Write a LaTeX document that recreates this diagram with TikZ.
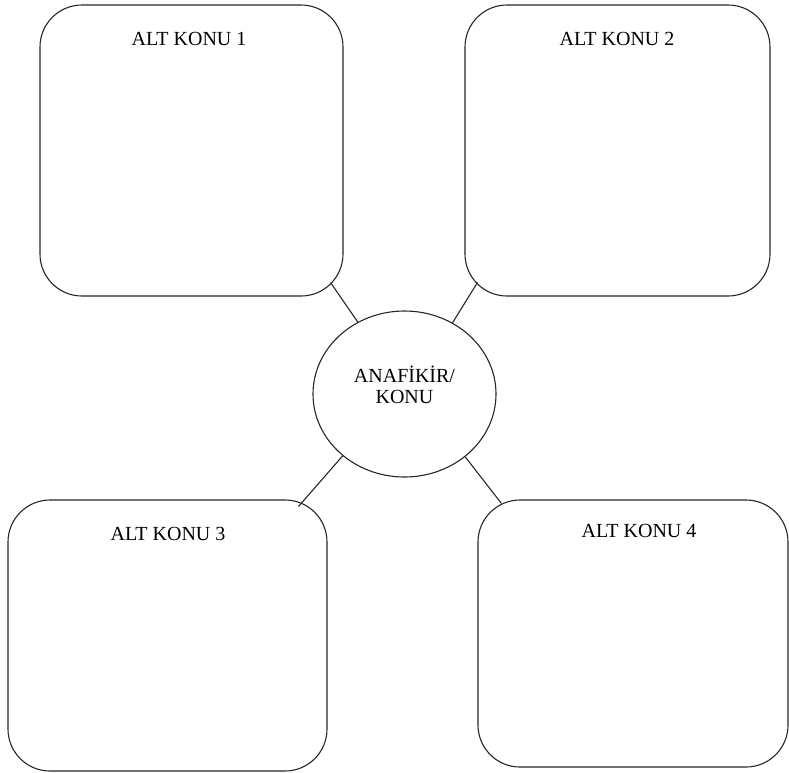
\documentclass[tikz,border=0pt]{standalone}
\usepackage{fontspec}
\setmainfont{Liberation Serif}
\usetikzlibrary{shapes.geometric,calc}

\tikzset{
  topicbox/.style={draw=black!85, line width=1.1pt, rounded corners=42pt,
    rectangle, inner sep=0pt, minimum width=#1},
  mainidea/.style={draw=black!85, line width=1.1pt, ellipse, inner sep=0pt,
    minimum width=183pt, minimum height=166pt},
  boxtitle/.style={anchor=base, inner sep=0pt,
    font=\fontsize{20}{21}\selectfont},
  link/.style={draw=black!85, line width=1.1pt}
}

\begin{document}
\begin{tikzpicture}[x=1pt, y=-1pt]
  \useasboundingbox (0,0) rectangle (789,772);

  % four sub-topic boxes
  \node[topicbox=303pt, minimum height=291pt] (b1) at (191.5,150.5) {};
  \node[topicbox=305pt, minimum height=291pt] (b2) at (617.5,150.5) {};
  \node[topicbox=319pt, minimum height=271pt] (b3) at (167.5,635.5) {};
  \node[topicbox=310pt, minimum height=267pt] (b4) at (633,633.5) {};

  % box titles
  \node[boxtitle] (t1) at (189,45) {ALT KONU 1};
  \node[boxtitle] (t2) at (617,45) {ALT KONU 2};
  \node[boxtitle] (t3) at (168,540) {ALT KONU 3};
  \node[boxtitle] (t4) at (639,537) {ALT KONU 4};

  % central idea
  \node[mainidea] (c) at (404.5,394) {};
  \node[boxtitle] (m1) at (404.5,382) {ANAFİKİR/};
  \node[boxtitle] (m2) at (404.5,403) {KONU};

  % points on the rounded corners where the links meet the boxes
  \coordinate (p1) at ($(b1.south east)+(-13,-14)$);
  \coordinate (p2) at ($(b2.south west)+(13,-14)$);
  \coordinate (p3) at ($(b3.north east)+(-29,7)$);
  \coordinate (p4) at ($(b4.north west)+(24,4)$);

  % links from the central idea to each box
  \draw[link] (c.123.8) -- (p1);
  \draw[link] (c.56.2) -- (p2);
  \draw[link] (c.225.7) -- (p3);
  \draw[link] (c.314.8) -- (p4);
\end{tikzpicture}
\end{document}
